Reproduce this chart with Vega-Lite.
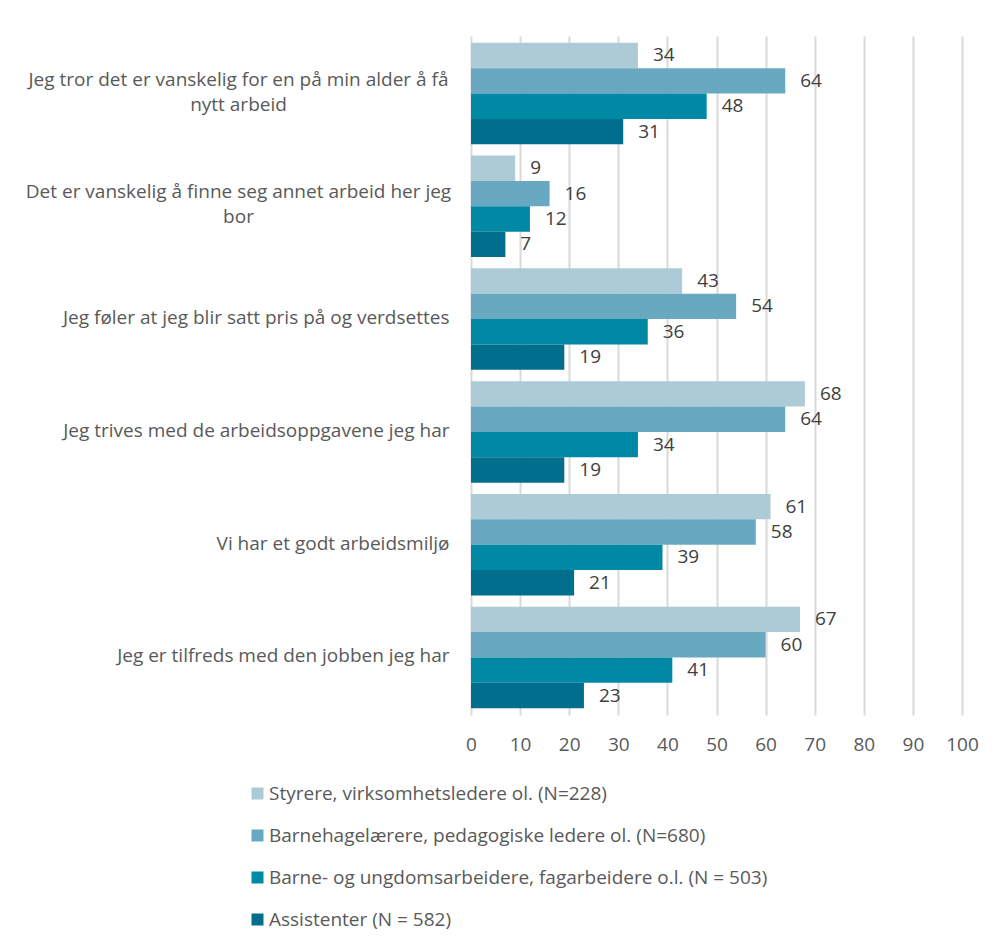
{
  "$schema": "https://vega.github.io/schema/vega-lite/v6.json",
  "width": 491,
  "height": 679,
  "autosize": {"type": "none"},
  "padding": {"left": 471, "top": 36, "right": 33, "bottom": 235},
  "background": "#ffffff",
  "config": {
    "font": "Open Sans",
    "view": {"stroke": null}
  },
  "data": {
    "values": [
      {"statement": "Jeg tror det er vanskelig for en på min alder å få|nytt arbeid", "group": "Styrere, virksomhetsledere ol. (N=228)", "value": 34},
      {"statement": "Jeg tror det er vanskelig for en på min alder å få|nytt arbeid", "group": "Barnehagelærere, pedagogiske ledere ol. (N=680)", "value": 64},
      {"statement": "Jeg tror det er vanskelig for en på min alder å få|nytt arbeid", "group": "Barne- og ungdomsarbeidere, fagarbeidere o.l. (N = 503)", "value": 48},
      {"statement": "Jeg tror det er vanskelig for en på min alder å få|nytt arbeid", "group": "Assistenter (N = 582)", "value": 31},
      {"statement": "Det er vanskelig å finne seg annet arbeid her jeg|bor", "group": "Styrere, virksomhetsledere ol. (N=228)", "value": 9},
      {"statement": "Det er vanskelig å finne seg annet arbeid her jeg|bor", "group": "Barnehagelærere, pedagogiske ledere ol. (N=680)", "value": 16},
      {"statement": "Det er vanskelig å finne seg annet arbeid her jeg|bor", "group": "Barne- og ungdomsarbeidere, fagarbeidere o.l. (N = 503)", "value": 12},
      {"statement": "Det er vanskelig å finne seg annet arbeid her jeg|bor", "group": "Assistenter (N = 582)", "value": 7},
      {"statement": "Jeg føler at jeg blir satt pris på og verdsettes", "group": "Styrere, virksomhetsledere ol. (N=228)", "value": 43},
      {"statement": "Jeg føler at jeg blir satt pris på og verdsettes", "group": "Barnehagelærere, pedagogiske ledere ol. (N=680)", "value": 54},
      {"statement": "Jeg føler at jeg blir satt pris på og verdsettes", "group": "Barne- og ungdomsarbeidere, fagarbeidere o.l. (N = 503)", "value": 36},
      {"statement": "Jeg føler at jeg blir satt pris på og verdsettes", "group": "Assistenter (N = 582)", "value": 19},
      {"statement": "Jeg trives med de arbeidsoppgavene jeg har", "group": "Styrere, virksomhetsledere ol. (N=228)", "value": 68},
      {"statement": "Jeg trives med de arbeidsoppgavene jeg har", "group": "Barnehagelærere, pedagogiske ledere ol. (N=680)", "value": 64},
      {"statement": "Jeg trives med de arbeidsoppgavene jeg har", "group": "Barne- og ungdomsarbeidere, fagarbeidere o.l. (N = 503)", "value": 34},
      {"statement": "Jeg trives med de arbeidsoppgavene jeg har", "group": "Assistenter (N = 582)", "value": 19},
      {"statement": "Vi har et godt arbeidsmiljø", "group": "Styrere, virksomhetsledere ol. (N=228)", "value": 61},
      {"statement": "Vi har et godt arbeidsmiljø", "group": "Barnehagelærere, pedagogiske ledere ol. (N=680)", "value": 58},
      {"statement": "Vi har et godt arbeidsmiljø", "group": "Barne- og ungdomsarbeidere, fagarbeidere o.l. (N = 503)", "value": 39},
      {"statement": "Vi har et godt arbeidsmiljø", "group": "Assistenter (N = 582)", "value": 21},
      {"statement": "Jeg er tilfreds med den jobben jeg har", "group": "Styrere, virksomhetsledere ol. (N=228)", "value": 67},
      {"statement": "Jeg er tilfreds med den jobben jeg har", "group": "Barnehagelærere, pedagogiske ledere ol. (N=680)", "value": 60},
      {"statement": "Jeg er tilfreds med den jobben jeg har", "group": "Barne- og ungdomsarbeidere, fagarbeidere o.l. (N = 503)", "value": 41},
      {"statement": "Jeg er tilfreds med den jobben jeg har", "group": "Assistenter (N = 582)", "value": 23}
    ]
  },
  "encoding": {
    "y": {
      "field": "statement",
      "type": "nominal",
      "sort": null,
      "scale": {"paddingInner": 0.1, "paddingOuter": 0.06},
      "axis": {
        "title": null,
        "domain": false,
        "ticks": false,
        "tickSize": 0,
        "labelFontSize": 19,
        "labelColor": "#595959",
        "labelLimit": 600,
        "labelLineHeight": 25,
        "labelExpr": "split(datum.label, '|')",
        "labelAlign": {"condition": {"test": "indexof(datum.value, '|') >= 0", "value": "center"}, "value": "right"},
        "labelPadding": {"condition": {"test": "indexof(datum.value, '|') >= 0", "value": 233}, "value": 22},
        "labelOffset": {"condition": {"test": "indexof(datum.value, '|') >= 0", "value": -14}, "value": -1}
      }
    },
    "yOffset": {
      "field": "group",
      "type": "nominal",
      "sort": null
    },
    "x": {
      "field": "value",
      "type": "quantitative",
      "scale": {"domain": [0, 100]},
      "axis": {
        "title": null,
        "values": [0, 10, 20, 30, 40, 50, 60, 70, 80, 90, 100],
        "domain": false,
        "ticks": false,
        "labelFlush": false,
        "labelOverlap": false,
        "labelFontSize": 19,
        "labelColor": "#595959",
        "labelPadding": 20,
        "gridColor": "#d9d9d9",
        "gridWidth": 2
      }
    }
  },
  "layer": [
    {
      "mark": {"type": "bar"},
      "encoding": {
        "color": {
          "field": "group",
          "type": "nominal",
          "sort": null,
          "scale": {"range": ["#adcbd6", "#68a8c0", "#0088a5", "#006e8c"]},
          "legend": {
            "title": null,
            "orient": "none",
            "legendX": -223,
            "legendY": 748,
            "direction": "vertical",
            "symbolType": "square",
            "symbolSize": 144,
            "symbolStrokeWidth": 0,
            "labelFontSize": 19,
            "labelColor": "#595959",
            "labelLimit": 700,
            "rowPadding": 22,
            "labelOffset": 2
          }
        }
      }
    },
    {
      "mark": {"type": "text", "align": "left", "baseline": "middle", "dx": 15, "fontSize": 19, "color": "#404040"},
      "encoding": {
        "text": {"field": "value", "type": "quantitative"}
      }
    }
  ]
}
